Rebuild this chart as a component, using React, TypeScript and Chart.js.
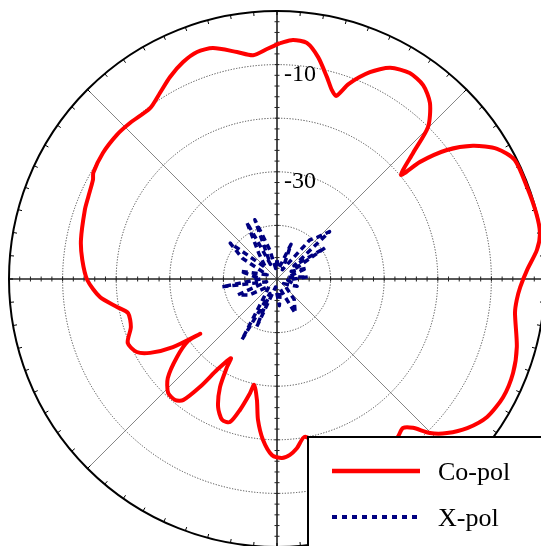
import React, { useEffect, useRef } from "react";
import { Chart, registerables } from "chart.js";

Chart.register(...registerables);

// ---------- data ----------
const DB_MIN = -50;
const DB_MAX = 0;
const ringValues = [-40, -30, -20, -10];
const tickLabelValues = [-10, -30];
const tickLabels = ["-10", "-30"];
const spokeAngles = [45, 135, 225, 315];
const seriesLabels = ["Co-pol", "X-pol"];

// Co-pol: angle (deg, clockwise from top) and level (dB), in drawing order
const coAngles = [
  0.7, 3.8, 7.2, 10.5, 13.9, 16.2, 17.9, 20.2, 24.2, 28.2, 32.8, 37.0, 41.0, 44.8,
  47.2, 50.0, 50.7, 52.8, 55.8, 59.4, 63.4, 69.8, 75.8, 80.1, 83.6, 87.9, 91.9,
  95.0, 98.1, 105.8, 111.7, 117.6, 123.3, 128.1, 132.2, 135.2, 137.6, 139.8, 142.6,
  148, 155, 162, 169.9, 173.3, 175.8, 178.4, 181.6, 185.0, 187.7, 189.4, 192.2,
  193.3, 195.8, 198.2, 201.3, 204.7, 207.8, 209.6, 210.2, 213.4, 215.5, 217.8,
  220.1, 223.7, 227.8, 232.0, 235.1, 234.5, 236.8, 239.8, 242.5, 246.8, 251.8,
  257.1, 260.1, 264.2, 269.7, 275.6, 281.3, 289.8, 293.5, 298.3, 300.1, 305.9,
  312.0, 316.7, 323.4, 327.8, 332.1, 336.6, 340.6, 344.5, 350.0, 353.9, 357.5, 360.7,
];
const coValues = [
  -6.0, -5.3, -5.6, -7.9, -11.2, -13.3, -14.1, -11.2, -7.7, -5.3, -4.3, -4.7, -6.5, -10.0,
  -15.4, -19.8, -15.5, -10.2, -5.8, -2.3, -0.4, -0.3, -0.1, -0.2, -1.2, -3.3, -4.6,
  -5.1, -5.15, -3.5, -2.6, -2.4, -3.1, -4.9, -7.2, -9.5, -12.4, -13.6, -12.9,
  -12, -13, -16, -20.1, -18.2, -17.1, -16.6, -17.1, -19.9, -23.5, -27.1, -29.8,
  -28.1, -24.6, -21.9, -21.8, -23.7, -27.2, -31.1, -32.9, -29.7, -25.3, -21.4,
  -20.5, -20.6, -22.5, -26.3, -29.8, -32.4, -26.8, -22.6, -20.5, -19.7, -21.3,
  -21.5, -19.7, -16.8, -14.6, -13.5, -12.7, -11.9, -11.6, -11.0, -10.4, -9.9,
  -9.8, -10.0, -10.3, -9.0, -7.35, -5.9, -5.1, -5.3, -7.0, -8.0, -7.05, -6.0,
];

// X-pol: angle (deg) and level (dB)
const xAngles = [
  0, 10, 22, 30, 40, 44, 48, 52, 57, 62, 70, 80, 86, 95, 110, 125, 140, 152, 162,
  175, 190, 203, 206, 210, 216, 228, 240, 248, 255, 262, 270, 282, 293, 301, 307.5,
  315, 325, 332, 336, 339.5, 346, 353, 360,
];
const xValues = [
  -46.5, -48, -43, -48, -40.5, -39.2, -36.8, -46, -39.3, -47, -44, -48, -44.2, -48,
  -46, -48.5, -45, -42.8, -48, -45, -48.5, -40.3, -47, -36.9, -46, -48, -44, -42.1,
  -48, -39.6, -47, -43, -48, -42.4, -39, -47, -44, -38, -47, -38.2, -44.4, -48, -46.5,
];

// ---------- layout ----------
const W = 541;
const H = 546;
const CX = 277;
const CY = 279;
const R_PX = 268;

function toXY(angles: number[], values: number[]) {
  return angles.map((a, i) => {
    const r = values[i] - DB_MIN;
    const t = (a * Math.PI) / 180;
    return { x: r * Math.sin(t), y: r * Math.cos(t) };
  });
}

const polarGrid = {
  id: "polarGrid",
  beforeDatasetsDraw(chart: any) {
    const { ctx } = chart;
    const xs = chart.scales.x;
    const ys = chart.scales.y;
    const cx = xs.getPixelForValue(0);
    const cy = ys.getPixelForValue(0);
    const unit = xs.getPixelForValue(1) - cx;
    const R = (DB_MAX - DB_MIN) * unit;
    ctx.save();

    // dotted rings
    ctx.setLineDash([1.2, 1.6]);
    ctx.strokeStyle = "#444";
    ctx.lineWidth = 1;
    for (const v of ringValues) {
      ctx.beginPath();
      ctx.arc(cx, cy, (v - DB_MIN) * unit, 0, Math.PI * 2);
      ctx.stroke();
    }
    ctx.setLineDash([]);

    // diagonal spokes
    ctx.strokeStyle = "#666";
    ctx.lineWidth = 0.8;
    for (const a of spokeAngles) {
      const t = (a * Math.PI) / 180;
      ctx.beginPath();
      ctx.moveTo(cx, cy);
      ctx.lineTo(cx + R * Math.sin(t), cy - R * Math.cos(t));
      ctx.stroke();
    }

    // main axes
    ctx.strokeStyle = "#222";
    ctx.lineWidth = 1.6;
    ctx.beginPath();
    ctx.moveTo(cx - R, cy);
    ctx.lineTo(cx + R, cy);
    ctx.moveTo(cx, cy - R);
    ctx.lineTo(cx, cy + R);
    ctx.stroke();

    // axis minor ticks every 2 dB
    ctx.lineWidth = 1;
    ctx.beginPath();
    for (let v = DB_MIN + 2; v < DB_MAX; v += 2) {
      const r = (v - DB_MIN) * unit;
      for (const s of [-1, 1]) {
        ctx.moveTo(cx + s * r, cy - 2.5);
        ctx.lineTo(cx + s * r, cy + 2.5);
        ctx.moveTo(cx - 2.5, cy + s * r);
        ctx.lineTo(cx + 2.5, cy + s * r);
      }
    }
    ctx.stroke();

    // outer circle
    ctx.strokeStyle = "#000";
    ctx.lineWidth = 2;
    ctx.beginPath();
    ctx.arc(cx, cy, R, 0, Math.PI * 2);
    ctx.stroke();

    // outer ticks every 5 degrees
    ctx.lineWidth = 1;
    ctx.beginPath();
    for (let a = 0; a < 360; a += 5) {
      const t = (a * Math.PI) / 180;
      const sx = Math.sin(t);
      const sy = -Math.cos(t);
      ctx.moveTo(cx + R * sx, cy + R * sy);
      ctx.lineTo(cx + (R - 4) * sx, cy + (R - 4) * sy);
    }
    ctx.stroke();

    // tick labels
    ctx.fillStyle = "#000";
    ctx.font = "24px 'Liberation Serif', 'Times New Roman', serif";
    ctx.textAlign = "left";
    ctx.textBaseline = "alphabetic";
    tickLabelValues.forEach((v, i) => {
      const r = (v - DB_MIN) * unit;
      ctx.fillText(tickLabels[i], cx + 7, cy - r + 16);
    });
    ctx.restore();
  },
  afterDraw(chart: any) {
    const { ctx } = chart;
    const left = 308;
    const top = 437;
    ctx.save();
    ctx.fillStyle = "#fff";
    ctx.fillRect(left, top, W - left + 10, H - top + 10);
    ctx.strokeStyle = "#000";
    ctx.lineWidth = 2;
    ctx.strokeRect(left, top, W - left + 10, H - top + 10);
    const ds = chart.data.datasets;
    const rows = [471, 517];
    ds.forEach((d: any, i: number) => {
      const y = rows[i];
      ctx.strokeStyle = d.borderColor;
      ctx.lineWidth = i === 0 ? 4.5 : 4;
      ctx.setLineDash(i === 0 ? [] : [5, 5]);
      ctx.beginPath();
      ctx.moveTo(left + 24, y);
      ctx.lineTo(left + 112, y);
      ctx.stroke();
      ctx.setLineDash([]);
      ctx.fillStyle = "#000";
      ctx.font = "26px 'Liberation Serif', 'Times New Roman', serif";
      ctx.textAlign = "left";
      ctx.textBaseline = "alphabetic";
      ctx.fillText(d.label, left + 130, y + 9);
    });
    ctx.restore();
  },
};

export default function App() {
  const ref = useRef<HTMLCanvasElement>(null);
  useEffect(() => {
    const ppu = R_PX / (DB_MAX - DB_MIN);
    const chart = new Chart(ref.current as HTMLCanvasElement, {
      type: "scatter",
      data: {
        datasets: [
          {
            label: seriesLabels[0],
            data: toXY(coAngles, coValues),
            showLine: true,
            borderColor: "#ff0000",
            borderWidth: 4,
            borderJoinStyle: "round",
            pointRadius: 0,
            tension: 0.25,
            fill: false,
          },
          {
            label: seriesLabels[1],
            data: toXY(xAngles, xValues),
            showLine: true,
            borderColor: "#000080",
            borderWidth: 3.5,
            borderDash: [6, 4],
            borderJoinStyle: "round",
            pointRadius: 0,
            tension: 0,
            fill: false,
          },
        ],
      },
      options: {
        responsive: false,
        animation: false,
        events: [],
        layout: { padding: 0 },
        scales: {
          x: { type: "linear", display: false, min: -CX / ppu, max: (W - CX) / ppu },
          y: { type: "linear", display: false, min: -(H - CY) / ppu, max: CY / ppu },
        },
        plugins: { legend: { display: false }, tooltip: { enabled: false } },
      },
      plugins: [polarGrid],
    } as any);
    return () => chart.destroy();
  }, []);
  return (
    <div style={{ position: "fixed", left: 0, top: 0, width: W, height: H, overflow: "hidden", background: "#fff" }}>
      <canvas ref={ref} width={W} height={H} style={{ display: "block", width: W, height: H }} />
    </div>
  );
}
